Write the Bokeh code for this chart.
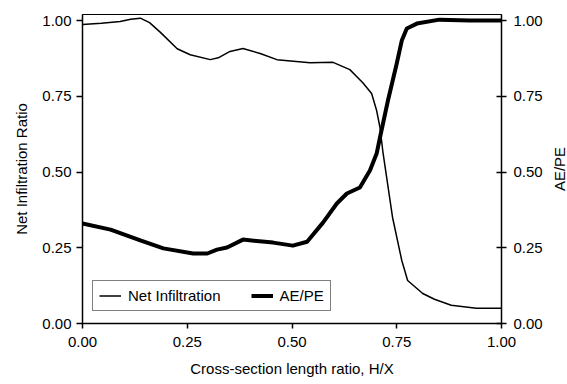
import math
from bokeh.plotting import figure
from bokeh.models import (Range1d, LinearAxis, FixedTicker, NumeralTickFormatter,
                          Legend, LegendItem, Label)
from bokeh.embed import file_html
from bokeh.resources import INLINE

# Data
x_net = [0.000, 0.045, 0.090, 0.115, 0.138, 0.160, 0.186, 0.226, 0.257, 0.305, 0.324, 0.352,
         0.383, 0.424, 0.464, 0.543, 0.598, 0.638, 0.669, 0.690, 0.702, 0.710,
         0.717, 0.740, 0.762, 0.776, 0.812, 0.840, 0.880, 0.940, 1.000]
net_infiltration = [0.987, 0.991, 0.997, 1.004, 1.008, 0.993, 0.961, 0.907, 0.887, 0.871, 0.877, 0.898,
                    0.908, 0.891, 0.871, 0.861, 0.862, 0.838, 0.795, 0.759, 0.703, 0.647,
                    0.566, 0.350, 0.208, 0.142, 0.099, 0.080, 0.060, 0.050, 0.050]

x_ae = [0.000, 0.067, 0.138, 0.193, 0.264, 0.298, 0.321, 0.345, 0.383, 0.455,
        0.502, 0.536, 0.574, 0.607, 0.631, 0.662, 0.686, 0.702, 0.710, 0.729,
        0.750, 0.762, 0.774, 0.798, 0.852, 0.924, 1.000]
ae_pe = [0.330, 0.310, 0.274, 0.248, 0.231, 0.231, 0.244, 0.251, 0.277, 0.267,
         0.257, 0.270, 0.333, 0.396, 0.429, 0.449, 0.505, 0.561, 0.614, 0.736,
         0.858, 0.934, 0.974, 0.990, 1.003, 1.000, 1.000]

ticks = [0.0, 0.25, 0.5, 0.75, 1.0]
x_title = "Cross-section length ratio, H/X"
y_title = "Net Infiltration Ratio"
y2_title = "AE/PE"

FONT = "Liberation Sans"

p = figure(width=567, height=384, output_backend="svg", toolbar_location=None,
           x_range=Range1d(0, 1), y_range=Range1d(0, 1.02),
           min_border_left=82, min_border_right=66, min_border_top=14, min_border_bottom=61,
           x_axis_label=x_title, y_axis_label=y_title)
p.extra_y_ranges = {"ae": Range1d(0, 1.02)}
p.add_layout(LinearAxis(y_range_name="ae"), "right")

p.xgrid.visible = False
p.ygrid.visible = False
p.outline_line_color = "black"
p.outline_line_width = 1
p.background_fill_color = "white"
p.border_fill_color = "white"

for ax in p.axis:
    ax.ticker = FixedTicker(ticks=ticks)
    ax.formatter = NumeralTickFormatter(format="0.00")
    ax.axis_line_color = "black"
    ax.axis_line_width = 1.5
    ax.major_tick_line_color = "black"
    ax.major_tick_line_width = 1.5
    ax.minor_tick_line_color = None
    ax.major_label_text_font = FONT
    ax.major_label_text_font_size = "15px"
    ax.major_label_text_color = "black"
    ax.axis_label_text_font = FONT
    ax.axis_label_text_font_size = "15px"
    ax.axis_label_text_font_style = "normal"
    ax.axis_label_text_color = "black"

p.xaxis.major_tick_out = 5
p.xaxis.major_tick_in = 0
p.xaxis.major_label_standoff = 8
p.xaxis.axis_label_standoff = 10

p.yaxis[0].major_tick_out = 6
p.yaxis[0].major_tick_in = 0
p.yaxis[0].major_label_standoff = 5
p.yaxis[0].axis_label_standoff = 9

p.yaxis[1].major_tick_out = 5
p.yaxis[1].major_tick_in = 5
p.yaxis[1].major_label_standoff = 7

# right-hand axis title, reading bottom-to-top like the reference
p.add_layout(Label(x=1.138, y=0.51, text=y2_title, angle=math.pi / 2,
                   text_align="center", text_baseline="middle",
                   text_font=FONT, text_font_size="15px", text_color="black"),
             "right")

r_net = p.line(x_net, net_infiltration, line_color="black", line_width=1.5,
               line_join="round")
r_ae = p.line(x_ae, ae_pe, line_color="black", line_width=4, line_join="round",
              y_range_name="ae")

legend = Legend(items=[LegendItem(label="Net Infiltration", renderers=[r_net]),
                       LegendItem(label="AE/PE", renderers=[r_ae])],
                location=(10, 12), orientation="horizontal",
                border_line_color="black", border_line_width=1,
                background_fill_color="white", background_fill_alpha=1,
                label_text_font=FONT, label_text_font_size="15px",
                label_text_color="black",
                glyph_width=22, glyph_height=13, label_height=13,
                label_standoff=7, spacing=30, padding=6, margin=0)
p.add_layout(legend, "center")

open("out.html", "w").write(file_html(p, INLINE))
